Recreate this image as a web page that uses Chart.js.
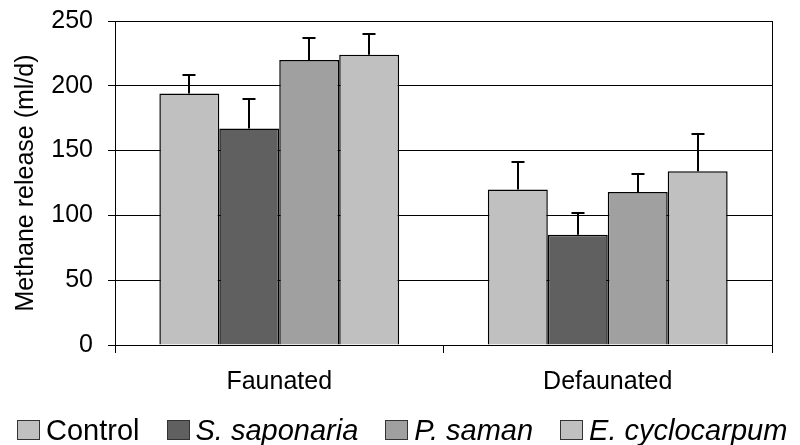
<!DOCTYPE html>
<html>
<head>
<meta charset="utf-8">
<title>Methane release</title>
<script src="https://cdn.jsdelivr.net/npm/chart.js@4.4.0/dist/chart.umd.min.js"></script>
<style>
    body { margin: 0; background: #fff; }
    #wrap { position: relative; width: 800px; height: 445px; }
    #legend {
        position: absolute; left: 17px; top: 413px;
        display: flex; align-items: center;
        font-family: 'Liberation Sans', Arial, sans-serif;
        font-size: 29px; line-height: 34px; color: #000; white-space: nowrap;
    }
    #legend .item { display: flex; align-items: center; margin-right: 27px; }
    #legend .box { width: 21px; height: 18px; border: 1px solid #333; margin-right: 6px; }
</style>
</head>
<body>
<div id="wrap">
    <canvas id="methaneChart" width="800" height="445"></canvas>
    <div id="legend"></div>
</div>

<script>
// Data
const categories = ['Faunated', 'Defaunated'];
const seriesNames = ['Control', 'S. saponaria', 'P. saman', 'E. cyclocarpum'];

const control = [194, 120];
const saponaria = [167, 85];
const saman = [220, 118];
const cyclocarpum = [224, 134];

// upper error bars (SD)
const controlErr = [14, 21];
const saponariaErr = [23, 17];
const samanErr = [17, 14];
const cyclocarpumErr = [16, 29];

const yTicks = [0, 50, 100, 150, 200, 250];

const seriesValues = [control, saponaria, saman, cyclocarpum];
const seriesErrors = [controlErr, saponariaErr, samanErr, cyclocarpumErr];
const seriesColors = ['#C0C0C0', '#606060', '#A0A0A0', '#C0C0C0'];

Chart.defaults.font.family = "'Liberation Sans', Arial, sans-serif";
Chart.defaults.color = '#000';

/**
 * Draws the upper error bars with caps
 */
const errorBars = {
    id: 'errorBars',
    afterDatasetsDraw(chart) {
        const ctx = chart.ctx;
        const yScale = chart.scales.y;
        ctx.save();
        ctx.strokeStyle = '#000';
        ctx.lineWidth = 2;
        chart.data.datasets.forEach(function(ds, i) {
            const meta = chart.getDatasetMeta(i);
            meta.data.forEach(function(bar, j) {
                const top = Math.round(yScale.getPixelForValue(ds.data[j] + ds.errors[j]));
                const x = Math.round(bar.x);
                ctx.beginPath();
                ctx.moveTo(x, bar.y);
                ctx.lineTo(x, top);
                ctx.moveTo(x - 6.5, top);
                ctx.lineTo(x + 6.5, top);
                ctx.stroke();
            });
        });
        ctx.restore();
    }
};

/**
 * Right-hand border of the plot area
 */
const plotFrame = {
    id: 'plotFrame',
    afterDraw(chart) {
        const a = chart.chartArea;
        const ctx = chart.ctx;
        ctx.save();
        ctx.strokeStyle = '#000';
        ctx.lineWidth = 1;
        ctx.beginPath();
        ctx.moveTo(Math.round(a.right) + 0.5, a.top);
        ctx.lineTo(Math.round(a.right) + 0.5, a.bottom);
        ctx.stroke();
        ctx.restore();
    }
};

const chart = new Chart(document.getElementById('methaneChart'), {
    type: 'bar',
    data: {
        labels: categories,
        datasets: seriesNames.map(function(name, i) {
            return {
                label: name,
                data: seriesValues[i],
                errors: seriesErrors[i],
                italic: i > 0,
                backgroundColor: seriesColors[i],
                borderColor: '#000',
                borderWidth: 1.5,
                categoryPercentage: 0.73,
                barPercentage: 1
            };
        })
    },
    options: {
        responsive: false,
        animation: false,
        layout: { padding: { left: 0, right: 28, top: 21, bottom: 0 } },
        plugins: {
            legend: { display: false },
            tooltip: { enabled: false }
        },
        scales: {
            x: {
                afterFit: function(s) { s.height = 100; },
                grid: { drawOnChartArea: false, drawTicks: true, tickLength: 8, color: '#000', offset: true },
                border: { color: '#000', width: 1 },
                ticks: { color: '#000', font: { size: 25 }, padding: 14 }
            },
            y: {
                min: 0,
                max: 250,
                afterBuildTicks: function(s) { s.ticks = yTicks.map(function(v) { return { value: v }; }); },
                afterFit: function(s) {
                    s.width = 115;
                    s.paddingTop = 0;
                    s.paddingBottom = 0;
                },
                grid: { color: '#000', lineWidth: 1, tickLength: 7 },
                border: { color: '#000', width: 1 },
                ticks: { color: '#000', font: { size: 25 }, padding: 15 },
                title: {
                    display: true,
                    text: 'Methane release (ml/d)',
                    color: '#000',
                    font: { size: 25 },
                    padding: { top: 11, bottom: 0 }
                }
            }
        }
    },
    plugins: [errorBars, plotFrame]
});

// HTML legend (species names in italics)
const legendEl = document.getElementById('legend');
chart.data.datasets.forEach(function(ds) {
    const item = document.createElement('span');
    item.className = 'item';
    const box = document.createElement('span');
    box.className = 'box';
    box.style.background = ds.backgroundColor;
    const text = document.createElement('span');
    text.textContent = ds.label;
    if (ds.italic) text.style.fontStyle = 'italic';
    item.appendChild(box);
    item.appendChild(text);
    legendEl.appendChild(item);
});
</script>
</body>
</html>
